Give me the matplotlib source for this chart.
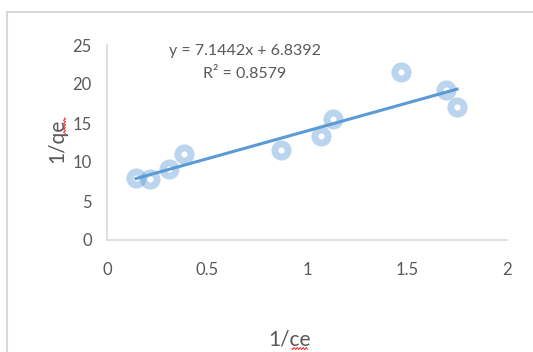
import numpy as np
from matplotlib import pyplot as plt
from matplotlib.patches import Rectangle

# 1/ce vs 1/qe (Langmuir linearisation)
inv_ce = [0.145, 0.215, 0.31, 0.385, 0.87, 1.07, 1.13, 1.47, 1.695, 1.75]
inv_qe = [7.9, 7.8, 9.1, 11.0, 11.5, 13.3, 15.5, 21.5, 19.2, 17.0]
slope = 7.1442
intercept = 6.8392
r2 = 0.8579

x_ticks = [0, 0.5, 1, 1.5, 2]
x_tick_labels = ["0", "0.5", "1", "1.5", "2"]
y_ticks = [0, 5, 10, 15, 20, 25]

plt.rcParams['font.family'] = ['Lato', 'DejaVu Sans']
text_col = "#595959"
grid_col = "#d9d9d9"
blue = "#5b9bd5"

fig = plt.figure(figsize=(5.33, 3.52), dpi=100)
# chart area border
fig.patches.append(Rectangle((7 / 533, -0.01), 1.0, 1 - 12 / 352 + 0.01,
                             transform=fig.transFigure, fill=False,
                             edgecolor=grid_col, linewidth=1.5))

ax = fig.add_axes([107 / 533, 1 - 240 / 352, 400 / 533, 195 / 352])
ax.set_xlim(0, 2)
ax.set_ylim(0, 25)
ax.set_xticks(x_ticks)
ax.set_xticklabels(x_tick_labels)
ax.set_yticks(y_ticks)
ax.tick_params(axis='x', length=0, pad=16, labelsize=12, labelcolor=text_col)
ax.tick_params(axis='y', length=0, pad=11, labelsize=12, labelcolor=text_col)
for side in ["top", "right"]:
    ax.spines[side].set_visible(False)
for side in ["left", "bottom"]:
    ax.spines[side].set_color(grid_col)
    ax.spines[side].set_linewidth(1.2)

ax.plot(inv_ce, inv_qe, linestyle="none", marker="o", markersize=9.5,
        markerfacecolor="none", markeredgecolor=blue, markeredgewidth=5,
        alpha=0.42, zorder=3)

xs = np.array([min(inv_ce), max(inv_ce)])
ax.plot(xs, slope * xs + intercept, color=blue, linewidth=2.2, zorder=4)

ax.text(0.69, 24.2, "y = %.4fx + %.4f" % (slope, intercept), ha="center",
        va="center", fontsize=11.5, color=text_col)
ax.text(0.69, 21.3, "R\u00b2 = %.4f" % r2, ha="center", va="center",
        fontsize=11.5, color=text_col)

fig.text(290 / 533, 1 - 339 / 352, "1/ce", ha="center", va="center",
         fontsize=15, color=text_col)
fig.text(57 / 533, 1 - 141 / 352, "1/qe", ha="center", va="center",
         fontsize=15, color=text_col, rotation=90)

# spell-check squiggles under "ce" and "qe"
zx = np.arange(0, 16, 0.5)
fig.add_artist(plt.Line2D((292 + zx) / 533, 1 - (348.5 + np.sin(zx * 2.1)) / 352,
                          transform=fig.transFigure, color="red", linewidth=0.6))
zy = np.arange(0, 16, 0.5)
fig.add_artist(plt.Line2D((64.5 + np.sin(zy * 2.1)) / 533, 1 - (118 + zy) / 352,
                          transform=fig.transFigure, color="red", linewidth=0.6))

fig.savefig("out.png", dpi=100)
